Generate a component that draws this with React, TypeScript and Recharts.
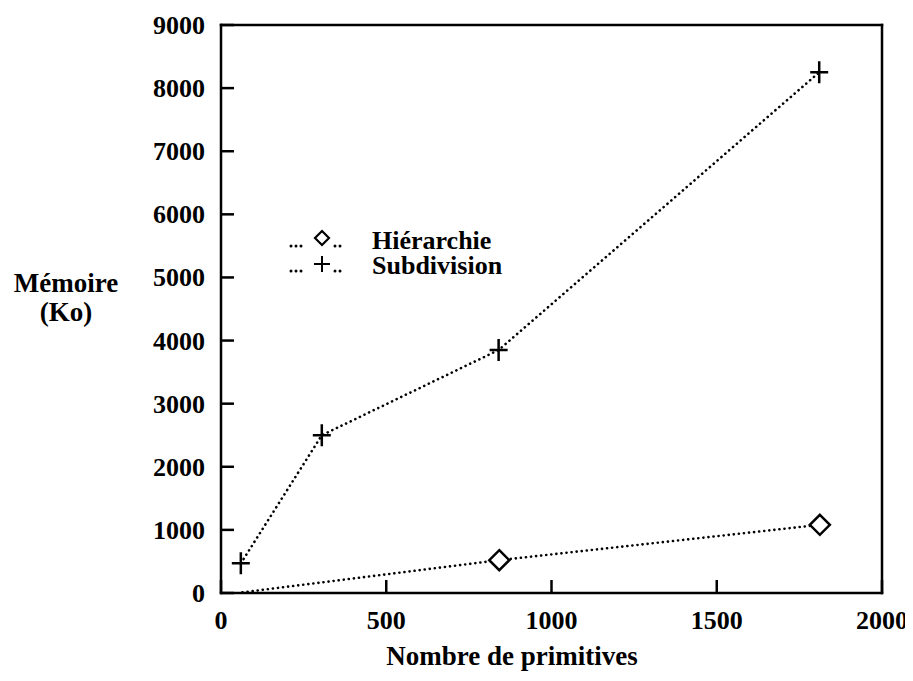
import { Label, Legend, Line, LineChart, XAxis, YAxis } from "recharts";

// values
const subdivisionX = [60, 305, 840, 1810];
const subdivisionY = [470, 2500, 3850, 8250];
const hierarchieX = [65, 842, 1812];
const hierarchieY = [10, 520, 1080];
const xTicks = [0, 500, 1000, 1500, 2000];
const yTicks = [0, 1000, 2000, 3000, 4000, 5000, 6000, 7000, 8000, 9000];

const subdivision = subdivisionX.map((x, i) => ({ x, y: subdivisionY[i] }));
const hierarchie = hierarchieX.map((x, i) => ({ x, y: hierarchieY[i] }));

const FONT = "'Liberation Serif', 'DejaVu Serif', serif";
const FS = 26;
const TICK = 13;
const AXIS = { stroke: "#000", strokeWidth: 2.5, strokeLinecap: "square" as const };

const LeftTick = ({ x, y, payload }: any) => (
  <g>
    <line x1={x} y1={y} x2={x + TICK} y2={y} stroke="#000" strokeWidth={2.5} />
    <text x={x - 16} y={y + 9} textAnchor="end" fontFamily={FONT} fontWeight="bold" fontSize={FS} fill="#000">
      {payload.value}
    </text>
  </g>
);
const RightTick = ({ x, y }: any) => (
  <line x1={x} y1={y} x2={x - TICK} y2={y} stroke="#000" strokeWidth={2.5} />
);
const BottomTick = ({ x, y, payload }: any) => (
  <g>
    <line x1={x} y1={y} x2={x} y2={y - TICK} stroke="#000" strokeWidth={2.5} />
    <text x={x} y={y + 36} textAnchor="middle" fontFamily={FONT} fontWeight="bold" fontSize={FS} fill="#000">
      {payload.value}
    </text>
  </g>
);
const TopTick = ({ x, y }: any) => (
  <line x1={x} y1={y} x2={x} y2={y + TICK} stroke="#000" strokeWidth={2.5} />
);

const Diamond = ({ cx, cy, index }: any) => {
  if (index === 0 || cx == null) return <g key={index} />;
  const r = 10;
  return (
    <path
      key={index}
      d={`M${cx},${cy - r}L${cx + r},${cy}L${cx},${cy + r}L${cx - r},${cy}Z`}
      fill="#fff"
      stroke="#000"
      strokeWidth={2.5}
    />
  );
};
const Cross = ({ cx, cy, index }: any) => {
  if (cx == null) return <g key={index} />;
  return (
    <path
      key={index}
      d={`M${cx - 9},${cy}H${cx + 9}M${cx},${cy - 11}V${cy + 11}`}
      stroke="#000"
      strokeWidth={2.5}
      fill="none"
    />
  );
};

const Dots = ({ x }: { x: number }) => (
  <>
    <circle cx={x} cy={0} r={1.5} fill="#000" />
    <circle cx={x + 5} cy={0} r={1.5} fill="#000" />
  </>
);

const LegendContent = () => {
  const rows = [
    { name: "Hiérarchie", kind: "diamond" },
    { name: "Subdivision", kind: "cross" },
  ];
  return (
    <div style={{ fontFamily: FONT, fontWeight: "bold", fontSize: 26, lineHeight: "25px" }}>
      {rows.map((r) => (
        <div key={r.name} style={{ display: "flex", alignItems: "center", height: 25 }}>
          <svg width={84} height={25}>
            <g transform="translate(0,18)">
              <Dots x={3} />
              <circle cx={13} cy={0} r={1.5} fill="#000" />
              {r.kind === "diamond" ? (
                <path d="M34,-15L41,-8L34,-1L27,-8Z" fill="none" stroke="#000" strokeWidth={2.2} />
              ) : (
                <path d="M26,-7H42M34,-15V1" stroke="#000" strokeWidth={2} fill="none" />
              )}
              <Dots x={47} />
            </g>
          </svg>
          <span>{r.name}</span>
        </div>
      ))}
    </div>
  );
};

export default function App() {
  return (
    <LineChart
      width={905}
      height={665}
      margin={{ top: 16, right: 30, bottom: 79, left: 212 }}
      style={{ fontFamily: FONT }}
    >
      <XAxis
        dataKey="x"
        type="number"
        domain={[0, 2000]}
        ticks={xTicks}
        height={1}
        tickSize={0}
        tickMargin={0}
        tickLine={false}
        axisLine={AXIS}
        tick={<BottomTick />}
        interval={0}
      >
        <Label
          content={({ viewBox }: any) => (
            <text
              x={viewBox.x + 291}
              y={viewBox.y + 72}
              textAnchor="middle"
              fontFamily={FONT}
              fontWeight="bold"
              fontSize={27}
              fill="#000"
            >
              Nombre de primitives
            </text>
          )}
        />
      </XAxis>
      <XAxis
        xAxisId="top"
        orientation="top"
        dataKey="x"
        type="number"
        domain={[0, 2000]}
        ticks={xTicks}
        height={1}
        tickSize={0}
        tickMargin={0}
        tickLine={false}
        axisLine={AXIS}
        tick={<TopTick />}
        interval={0}
      />
      <YAxis
        type="number"
        domain={[0, 9000]}
        ticks={yTicks}
        width={1}
        tickSize={0}
        tickMargin={0}
        tickLine={false}
        axisLine={AXIS}
        tick={<LeftTick />}
        interval={0}
      >
        <Label
          content={({ viewBox }: any) => (
            <text fontFamily={FONT} fontWeight="bold" fontSize={27} fill="#000" textAnchor="middle">
              <tspan x={viewBox.x - 154} y={viewBox.y + 267}>Mémoire</tspan>
              <tspan x={viewBox.x - 154} y={viewBox.y + 296}>(Ko)</tspan>
            </text>
          )}
        />
      </YAxis>
      <YAxis
        yAxisId="right"
        orientation="right"
        type="number"
        domain={[0, 9000]}
        ticks={yTicks}
        width={1}
        tickSize={0}
        tickMargin={0}
        tickLine={false}
        axisLine={AXIS}
        tick={<RightTick />}
        interval={0}
      />
      <Legend
        layout="vertical"
        align="center"
        verticalAlign="middle"
        content={<LegendContent />}
        wrapperStyle={{ position: "absolute", left: 280, top: 220, width: "auto" }}
      />
      <Line
        data={hierarchie}
        dataKey="y"
        name="Hiérarchie"
        stroke="#000"
        strokeWidth={2.6}
        strokeDasharray="0.1 5"
        strokeLinecap="round"
        dot={<Diamond />}
        activeDot={false}
        isAnimationActive={false}
      />
      <Line
        data={subdivision}
        dataKey="y"
        name="Subdivision"
        stroke="#000"
        strokeWidth={2.6}
        strokeDasharray="0.1 5"
        strokeLinecap="round"
        dot={<Cross />}
        activeDot={false}
        isAnimationActive={false}
      />
    </LineChart>
  );
}
